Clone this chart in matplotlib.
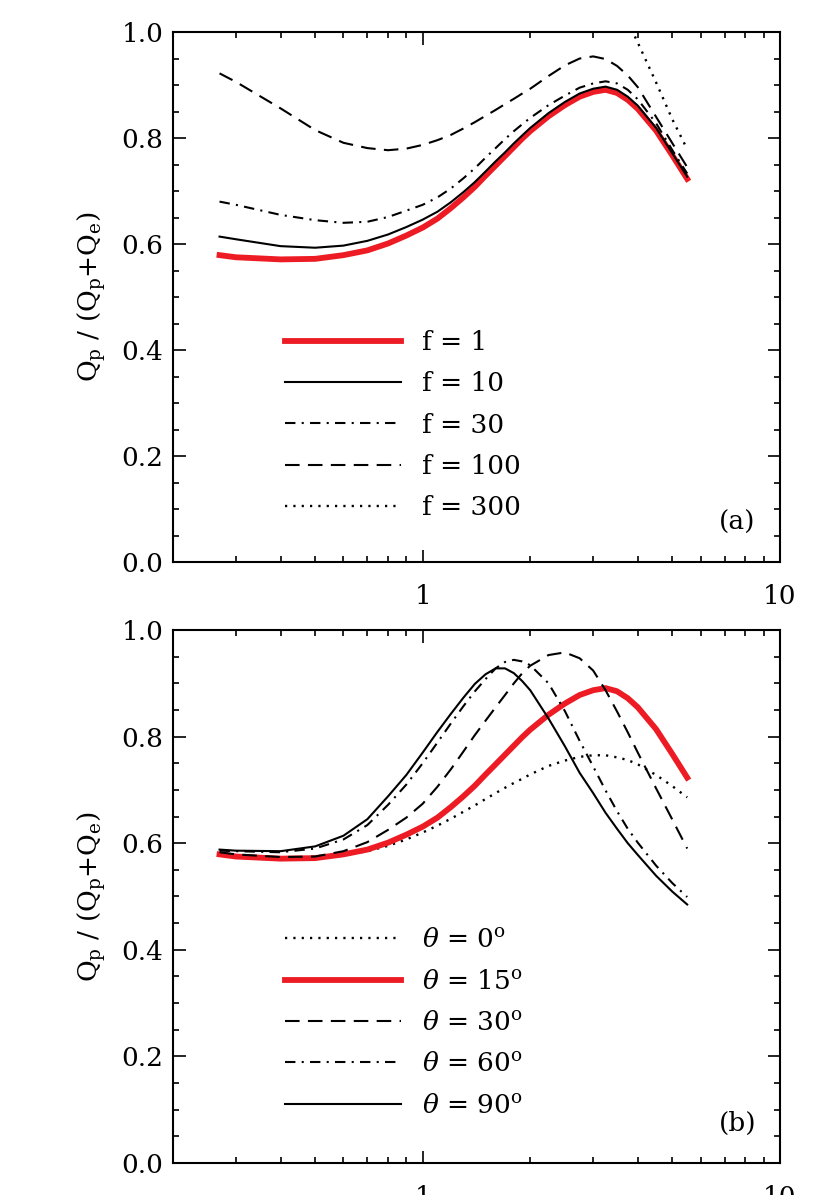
import matplotlib
matplotlib.use('Agg')
import numpy as np
import matplotlib.pyplot as plt
from matplotlib.ticker import MultipleLocator, FixedLocator, NullFormatter

plt.rcParams['font.family'] = ['DejaVu Serif']
plt.rcParams['mathtext.fontset'] = 'dejavuserif'
plt.rcParams['lines.scale_dashes'] = False

# x grid (values at these abscissae)
x = [0.27, 0.3, 0.4, 0.5, 0.6, 0.7, 0.8, 0.9, 1.0, 1.1, 1.2, 1.3, 1.4, 1.5, 1.6, 1.7, 1.8, 1.9,
     2.0, 2.25, 2.5, 2.75, 3.0, 3.25, 3.5, 3.75, 4.0, 4.5, 5.0, 5.5]

# panel (a): different f
f1 = [0.579, 0.575, 0.571, 0.572, 0.579, 0.588, 0.601, 0.616, 0.631, 0.648, 0.668, 0.688, 0.708,
      0.729, 0.748, 0.766, 0.783, 0.799, 0.813, 0.841, 0.862, 0.878, 0.887, 0.891, 0.885, 0.872,
      0.855, 0.814, 0.767, 0.723]
f10 = [0.614, 0.609, 0.596, 0.593, 0.597, 0.606, 0.618, 0.632, 0.646, 0.661, 0.679, 0.698, 0.717,
       0.737, 0.756, 0.773, 0.790, 0.805, 0.819, 0.847, 0.868, 0.884, 0.893, 0.897, 0.891, 0.878,
       0.861, 0.819, 0.771, 0.727]
f30 = [0.680, 0.674, 0.655, 0.645, 0.640, 0.642, 0.651, 0.663, 0.674, 0.688, 0.705, 0.724, 0.743,
       0.763, 0.781, 0.798, 0.813, 0.826, 0.838, 0.862, 0.880, 0.895, 0.903, 0.907, 0.903, 0.891,
       0.873, 0.828, 0.777, 0.733]
f100 = [0.922, 0.906, 0.856, 0.815, 0.791, 0.781, 0.777, 0.780, 0.787, 0.796, 0.806, 0.818, 0.830,
        0.842, 0.853, 0.864, 0.874, 0.884, 0.893, 0.917, 0.937, 0.950, 0.954, 0.949, 0.936, 0.918,
        0.896, 0.840, 0.790, 0.745]
f300 = [np.nan] * 25 + [1.02, 0.98, 0.905, 0.835, 0.779]

# panel (b): different theta (theta = 15 deg is the f = 1 curve)
th0 = [0.578, 0.575, 0.571, 0.572, 0.578, 0.585, 0.595, 0.607, 0.620, 0.633, 0.646, 0.659, 0.671,
       0.683, 0.694, 0.704, 0.713, 0.721, 0.729, 0.745, 0.755, 0.762, 0.765, 0.765, 0.761, 0.756,
       0.748, 0.728, 0.707, 0.686]
th15 = f1
th30 = [0.583, 0.579, 0.574, 0.575, 0.585, 0.602, 0.625, 0.648, 0.674, 0.706, 0.739, 0.772, 0.803,
        0.830, 0.855, 0.878, 0.900, 0.919, 0.933, 0.953, 0.958, 0.947, 0.924, 0.887, 0.847, 0.808,
        0.770, 0.703, 0.644, 0.590]
th60 = [0.586, 0.585, 0.583, 0.590, 0.607, 0.634, 0.672, 0.710, 0.750, 0.789, 0.825, 0.857, 0.885,
        0.908, 0.928, 0.940, 0.944, 0.941, 0.934, 0.900, 0.848, 0.792, 0.744, 0.699, 0.660, 0.627,
        0.601, 0.558, 0.525, 0.499]
th90 = [0.588, 0.586, 0.585, 0.594, 0.614, 0.645, 0.688, 0.728, 0.770, 0.809, 0.843, 0.873, 0.899,
        0.917, 0.928, 0.928, 0.919, 0.904, 0.887, 0.834, 0.782, 0.732, 0.694, 0.657, 0.627, 0.600,
        0.578, 0.539, 0.509, 0.485]

labels_a = ['f = 1', 'f = 10', 'f = 30', 'f = 100', 'f = 300']
labels_b = [r'$\theta$ = 0$^{\rm o}$', r'$\theta$ = 15$^{\rm o}$', r'$\theta$ = 30$^{\rm o}$',
            r'$\theta$ = 60$^{\rm o}$', r'$\theta$ = 90$^{\rm o}$']

RED = '#ed1c24'
SOLID = '-'
DASHDOT = (0, (7.5, 4.5, 1.5, 4.5))
DASHED = (0, (10.5, 6))
DOTTED = (0, (1.6, 4.4))
LW = 1.5
LW_RED = 4.2
FS = 19

fig = plt.figure(figsize=(8.3, 11.95), dpi=100)
ax1 = fig.add_axes([0.2084, 0.5297, 0.7313, 0.4435])
ax2 = fig.add_axes([0.2084, 0.0268, 0.7313, 0.4460])

ax1.plot(x, f1, color=RED, lw=LW_RED, label=labels_a[0])
ax1.plot(x, f10, color='k', lw=LW, ls=SOLID, label=labels_a[1])
ax1.plot(x, f30, color='k', lw=LW, ls=DASHDOT, label=labels_a[2])
ax1.plot(x, f100, color='k', lw=LW, ls=DASHED, label=labels_a[3])
ax1.plot(x, f300, color='k', lw=1.7, ls=DOTTED, label=labels_a[4])

ax2.plot(x, th0, color='k', lw=1.7, ls=DOTTED, label=labels_b[0])
ax2.plot(x, th15, color=RED, lw=LW_RED, label=labels_b[1])
ax2.plot(x, th30, color='k', lw=LW, ls=DASHED, label=labels_b[2])
ax2.plot(x, th60, color='k', lw=LW, ls=DASHDOT, label=labels_b[3])
ax2.plot(x, th90, color='k', lw=LW, ls=SOLID, label=labels_b[4])

ylab = r'Q$_{\rm p}$ / (Q$_{\rm p}$+Q$_{\rm e}$)'
for ax, tag, ly in [(ax1, '(a)', 0.438), (ax2, '(b)', 0.442)]:
    ax.set_xscale('log')
    ax.set_xlim(0.2, 10)
    ax.set_ylim(0, 1.0)
    ax.xaxis.set_major_locator(FixedLocator([1, 10]))
    ax.set_xticklabels(['1', '10'])
    ax.xaxis.set_minor_locator(FixedLocator([0.3, 0.4, 0.5, 0.6, 0.7, 0.8, 0.9,
                                             2, 3, 4, 5, 6, 7, 8, 9]))
    ax.xaxis.set_minor_formatter(NullFormatter())
    ax.yaxis.set_minor_locator(MultipleLocator(0.05))
    ax.set_yticks([0, 0.2, 0.4, 0.6, 0.8, 1.0], ['0.0', '0.2', '0.4', '0.6', '0.8', '1.0'])
    ax.tick_params(which='both', direction='in', top=True, right=True, width=1.2,
                   labelsize=FS)
    ax.tick_params(which='major', length=9)
    ax.tick_params(which='minor', length=4.5)
    ax.tick_params(axis='x', which='major', pad=16)
    ax.tick_params(axis='y', which='major', pad=7)
    for s in ax.spines.values():
        s.set_linewidth(1.5)
    ax.set_ylabel(ylab, fontsize=FS)
    ax.yaxis.set_label_coords(-0.107, 0.5)
    ax.text(0.93, 0.075, tag, transform=ax.transAxes, fontsize=FS, ha='center', va='center')
    ax.legend(frameon=False, loc='upper left', bbox_to_anchor=(0.1845, ly),
              borderpad=0, borderaxespad=0, handlelength=4.4, handletextpad=0.8,
              labelspacing=0.62, fontsize=FS)

plt.savefig('out.png', dpi=100)
